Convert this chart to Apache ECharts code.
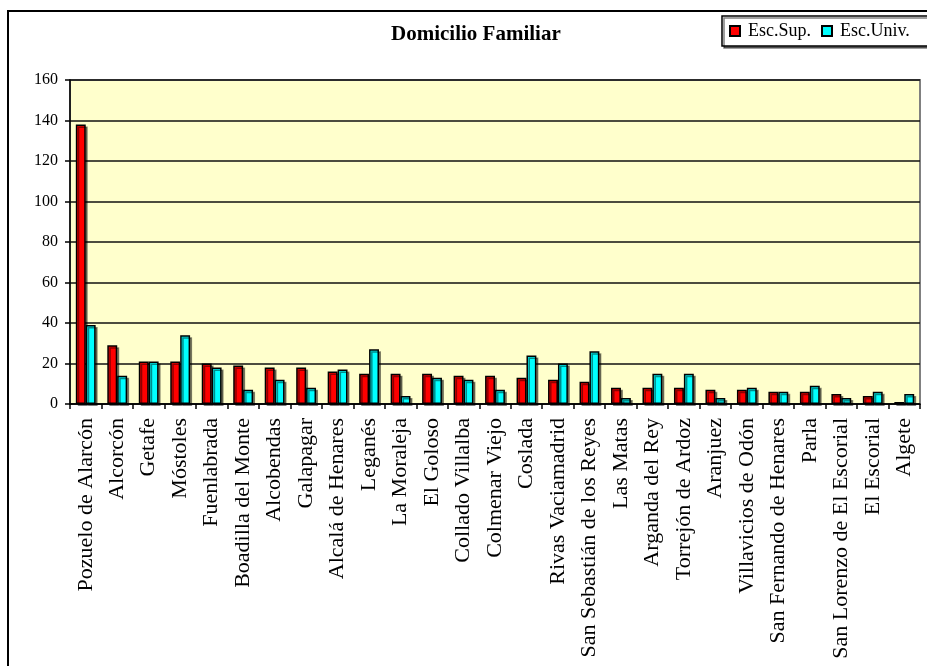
<!DOCTYPE html>
<html>
<head>
<meta charset="utf-8">
<script src="https://cdn.jsdelivr.net/npm/echarts@6/dist/echarts.min.js"></script>
<style>
  html, body { margin: 0; padding: 0; background: #fff; }
  #chart { width: 927px; height: 666px; }
</style>
</head>
<body>
<div id="chart"></div>
<script>
  var categories = ['Pozuelo de Alarcón', 'Alcorcón', 'Getafe', 'Móstoles', 'Fuenlabrada',
    'Boadilla del Monte', 'Alcobendas', 'Galapagar', 'Alcalá de Henares', 'Leganés',
    'La Moraleja', 'El Goloso', 'Collado Villalba', 'Colmenar Viejo', 'Coslada',
    'Rivas Vaciamadrid', 'San Sebastián de los Reyes', 'Las Matas', 'Arganda del Rey',
    'Torrejón de Ardoz', 'Aranjuez', 'Villavicios de Odón', 'San Fernando de Henares',
    'Parla', 'San Lorenzo de El Escorial', 'El Escorial', 'Algete'];
  var escSup = [138, 29, 21, 21, 20, 19, 18, 18, 16, 15, 15, 15, 14, 14, 13, 12, 11, 8, 8, 8, 7, 7, 6, 6, 5, 4, 1];
  var escUniv = [39, 14, 21, 34, 18, 7, 12, 8, 17, 27, 4, 13, 12, 7, 24, 20, 26, 3, 15, 15, 3, 8, 6, 9, 3, 6, 5];

  var serif = '"Liberation Serif", "DejaVu Serif", serif';

  var barStyle = function (color) {
    return {
      color: color,
      borderColor: '#000',
      borderWidth: 1.5,
      shadowColor: 'rgba(0,0,0,0.45)',
      shadowOffsetX: 2,
      shadowOffsetY: 2,
      shadowBlur: 0
    };
  };

  var chart = echarts.init(document.getElementById('chart'));
  var option = {
    animation: false,
    title: {
      text: 'Domicilio Familiar',
      left: 386,
      top: 19,
      textStyle: { fontFamily: serif, fontWeight: 'bold', fontSize: 21, color: '#000' }
    },
    legend: {
      orient: 'horizontal',
      left: 722,
      top: 16,
      width: 200,
      padding: [6, 20, 6, 7],
      itemGap: 10,
      itemWidth: 10,
      itemHeight: 10,
      icon: 'rect',
      backgroundColor: '#fff',
      borderColor: '#000',
      borderWidth: 1.5,
      shadowColor: 'rgba(0,0,0,0.5)',
      shadowOffsetX: 2,
      shadowOffsetY: 2,
      textStyle: { fontFamily: serif, fontSize: 18, color: '#000', padding: [0, 0, 0, 3] },
      data: ['Esc.Sup.', 'Esc.Univ.']
    },
    graphic: [{
      type: 'rect',
      shape: { x: 8, y: 11, width: 940, height: 700 },
      style: { fill: 'none', stroke: '#000', lineWidth: 2 },
      z: -10
    }],
    grid: {
      left: 70,
      top: 80,
      right: 7,
      bottom: 262,
      show: true,
      backgroundColor: '#FFFFCC',
      borderColor: '#808080',
      borderWidth: 2
    },
    xAxis: {
      type: 'category',
      data: categories,
      axisLine: { lineStyle: { color: '#000', width: 1.5 } },
      axisTick: { show: true, length: 5, lineStyle: { color: '#000', width: 1.5 } },
      axisLabel: {
        interval: 0,
        rotate: 90,
        margin: 14,
        fontFamily: serif,
        fontSize: 22,
        color: '#000'
      }
    },
    yAxis: {
      type: 'value',
      min: 0,
      max: 160,
      interval: 20,
      axisLine: { show: true, lineStyle: { color: '#000', width: 1.5 } },
      axisTick: { show: true, length: 5, lineStyle: { color: '#000', width: 1.5 } },
      splitLine: { lineStyle: { color: '#111', width: 1.5 } },
      axisLabel: { fontFamily: serif, fontSize: 16, color: '#000', margin: 12 }
    },
    series: [
      {
        name: 'Esc.Sup.',
        type: 'bar',
        data: escSup,
        barGap: '0%',
        barCategoryGap: '37%',
        itemStyle: barStyle('#FF0000')
      },
      {
        name: 'Esc.Univ.',
        type: 'bar',
        data: escUniv,
        itemStyle: barStyle('#00FFFF')
      }
    ]
  };
  chart.setOption(option);
</script>
</body>
</html>
